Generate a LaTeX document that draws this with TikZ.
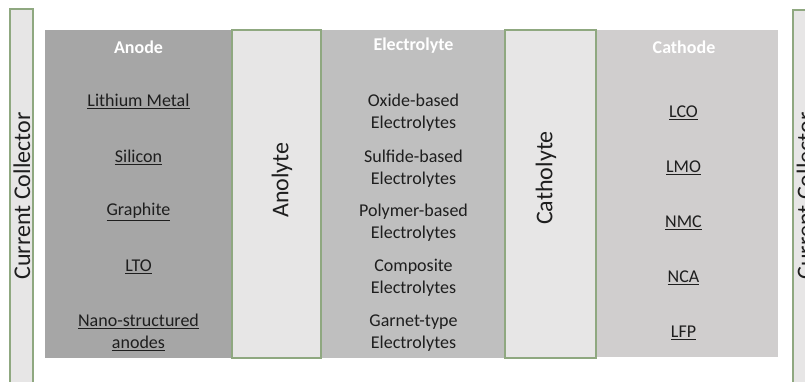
\documentclass[tikz,border=0pt]{standalone}
\usepackage{fontspec}
\setmainfont{Carlito}
\definecolor{anodefill}{HTML}{A6A6A6}
\definecolor{elecfill}{HTML}{BFBFBF}
\definecolor{cathfill}{HTML}{D0CECE}
\definecolor{layerfill}{HTML}{E7E6E6}
\definecolor{edgegreen}{RGB}{143,168,128}
\definecolor{txt}{RGB}{30,30,30}
\begin{document}
\begin{tikzpicture}[x=1pt,y=-1pt,
  block/.style={draw=none, inner sep=0pt, outer sep=0pt, anchor=north west},
  layer/.style={fill=layerfill, draw=edgegreen, line width=1.3pt, inner sep=0pt, outer sep=0pt, anchor=north west},
  item/.style={font=\fontsize{18}{22}\selectfont, text=txt, align=center, inner sep=0pt},
  coltitle/.style={font=\fontsize{18}{22}\selectfont\bfseries, text=white, inner sep=0pt},
  vlabel/.style={rotate=90, font=\fontsize{24}{28}\selectfont, text=txt, inner sep=0pt}]
\useasboundingbox (0,0) rectangle (805,381);
\clip (0,0) rectangle (805,381);
% current collectors
\node[layer, minimum width=23pt, minimum height=380pt] (ccL) at (10,9) {};
\node[layer, minimum width=23pt, minimum height=380pt] (ccR) at (793,10) {};
\node[vlabel] (ccLt) at (22,196) {Current Collector};
\node[vlabel] (ccRt) at (805,196) {Current Collector};
% columns
\node[block, fill=anodefill, minimum width=187pt, minimum height=328pt] (anode) at (45,30) {};
\node[block, fill=elecfill, minimum width=185pt, minimum height=328pt] (elec) at (321,30) {};
\node[block, fill=cathfill, minimum width=182pt, minimum height=327pt] (cath) at (596,30) {};
% interlayers
\node[layer, minimum width=89pt, minimum height=328pt] (anolyte) at (232,30) {};
\node[layer, minimum width=91pt, minimum height=328pt] (catholyte) at (505,30) {};
\node[vlabel] (anolytet) at (282,180) {Anolyte};
\node[vlabel] (catholytet) at (546,178) {Catholyte};
% titles
\node[coltitle] (anodet) at (138.5,47) {Anode};
\node[coltitle] (elect) at (413.5,46) {Electrolyte};
\node[coltitle] (catht) at (684,47) {Cathode};
% anode items
\node[item] (a1) at (138.5,101.5) {\underline{Lithium Metal}};
\node[item] (a2) at (138.5,157) {\underline{Silicon}};
\node[item] (a3) at (138.5,212) {\underline{Graphite}};
\node[item] (a4) at (138.5,267) {\underline{LTO}};
\node[item] (a5) at (138.5,332.5) {\underline{Nano-structured}\\\underline{anodes}};
% electrolyte items
\node[item] (e1) at (413.5,112.5) {Oxide-based\\Electrolytes};
\node[item] (e2) at (413.5,168.5) {Sulfide-based\\Electrolytes};
\node[item] (e3) at (413.5,223) {Polymer-based\\Electrolytes};
\node[item] (e4) at (413.5,278) {Composite\\Electrolytes};
\node[item] (e5) at (413.5,333) {Garnet-type\\Electrolytes};
% cathode items
\node[item] (c1) at (683.5,113) {\underline{LCO}};
\node[item] (c2) at (683.5,168) {\underline{LMO}};
\node[item] (c3) at (683.5,223) {\underline{NMC}};
\node[item] (c4) at (683.5,278) {\underline{NCA}};
\node[item] (c5) at (683.5,333) {\underline{LFP}};
\end{tikzpicture}
\end{document}
